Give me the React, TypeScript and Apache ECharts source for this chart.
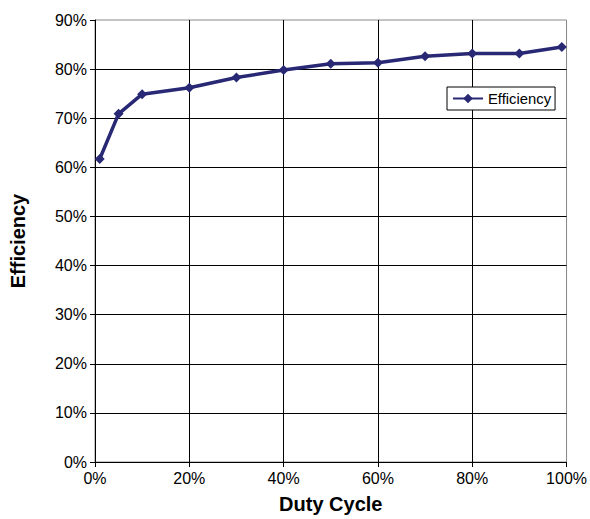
import React, { useEffect, useRef } from "react";
import * as echarts from "echarts";

const dutyCycle = [1, 5, 10, 20, 30, 40, 50, 60, 70, 80, 90, 99];
const efficiency = [61.7, 70.9, 74.9, 76.2, 78.3, 79.8, 81.1, 81.3, 82.6, 83.2, 83.2, 84.5];
const seriesName = "Efficiency";
const xTitle = "Duty Cycle";
const yTitle = "Efficiency";

const FONT = 'Arial, "Liberation Sans", Helvetica, sans-serif';

export default function App() {
  const ref = useRef<HTMLDivElement>(null);
  useEffect(() => {
    if (!ref.current) return;
    const chart = echarts.init(ref.current, undefined, { renderer: "svg" });
    chart.setOption({
      animation: false,
      backgroundColor: "#fff",
      grid: {
        left: 93.3,
        right: 21.7,
        top: 20,
        bottom: 51.5,
        show: true,
        borderColor: "#888",
        borderWidth: 1,
        backgroundColor: "transparent",
      },
      legend: {
        show: true,
        left: 447,
        top: 87,
        orient: "vertical",
        padding: [4, 4, 4, 5],
        borderColor: "#000",
        borderWidth: 1,
        backgroundColor: "#fff",
        borderRadius: 0,
        itemWidth: 30,
        itemHeight: 12,
        textStyle: { fontFamily: FONT, fontSize: 14.8, color: "#000" },
        data: [seriesName],
      },
      xAxis: {
        type: "value",
        min: 0,
        max: 100,
        interval: 20,
        name: xTitle,
        nameLocation: "middle",
        nameGap: 32,
        nameTextStyle: { fontFamily: FONT, fontSize: 20, fontWeight: "bold", color: "#000" },
        axisLine: { show: true, lineStyle: { color: "#000", width: 1 } },
        axisTick: { show: true, length: 5, lineStyle: { color: "#000" } },
        axisLabel: {
          formatter: "{value}%",
          fontFamily: FONT,
          fontSize: 16,
          color: "#000",
          margin: 8,
        },
        splitLine: {
          show: true,
          showMinLine: false,
          showMaxLine: false,
          lineStyle: { color: "#000", width: 1 },
        },
      },
      yAxis: {
        type: "value",
        min: 0,
        max: 90,
        interval: 10,
        name: yTitle,
        nameLocation: "middle",
        nameGap: 67,
        nameRotate: 90,
        nameTextStyle: { fontFamily: FONT, fontSize: 20, fontWeight: "bold", color: "#000" },
        axisLine: { show: true, lineStyle: { color: "#000", width: 1 } },
        axisTick: { show: true, length: 5, lineStyle: { color: "#000" } },
        axisLabel: {
          formatter: "{value}%",
          fontFamily: FONT,
          fontSize: 16,
          color: "#000",
          margin: 8,
        },
        splitLine: {
          show: true,
          showMinLine: false,
          showMaxLine: false,
          lineStyle: { color: "#000", width: 1 },
        },
      },
      series: [
        {
          name: seriesName,
          type: "line",
          data: dutyCycle.map((x, i) => [x, efficiency[i]]),
          symbol: "diamond",
          symbolSize: 10,
          showSymbol: true,
          itemStyle: { color: "#282874" },
          lineStyle: { color: "#282874", width: 3.5 },
        },
      ],
    });
    return () => chart.dispose();
  }, []);
  return (
    <div
      ref={ref}
      style={{ position: "absolute", left: 0, top: 0, width: 590, height: 519 }}
    />
  );
}
